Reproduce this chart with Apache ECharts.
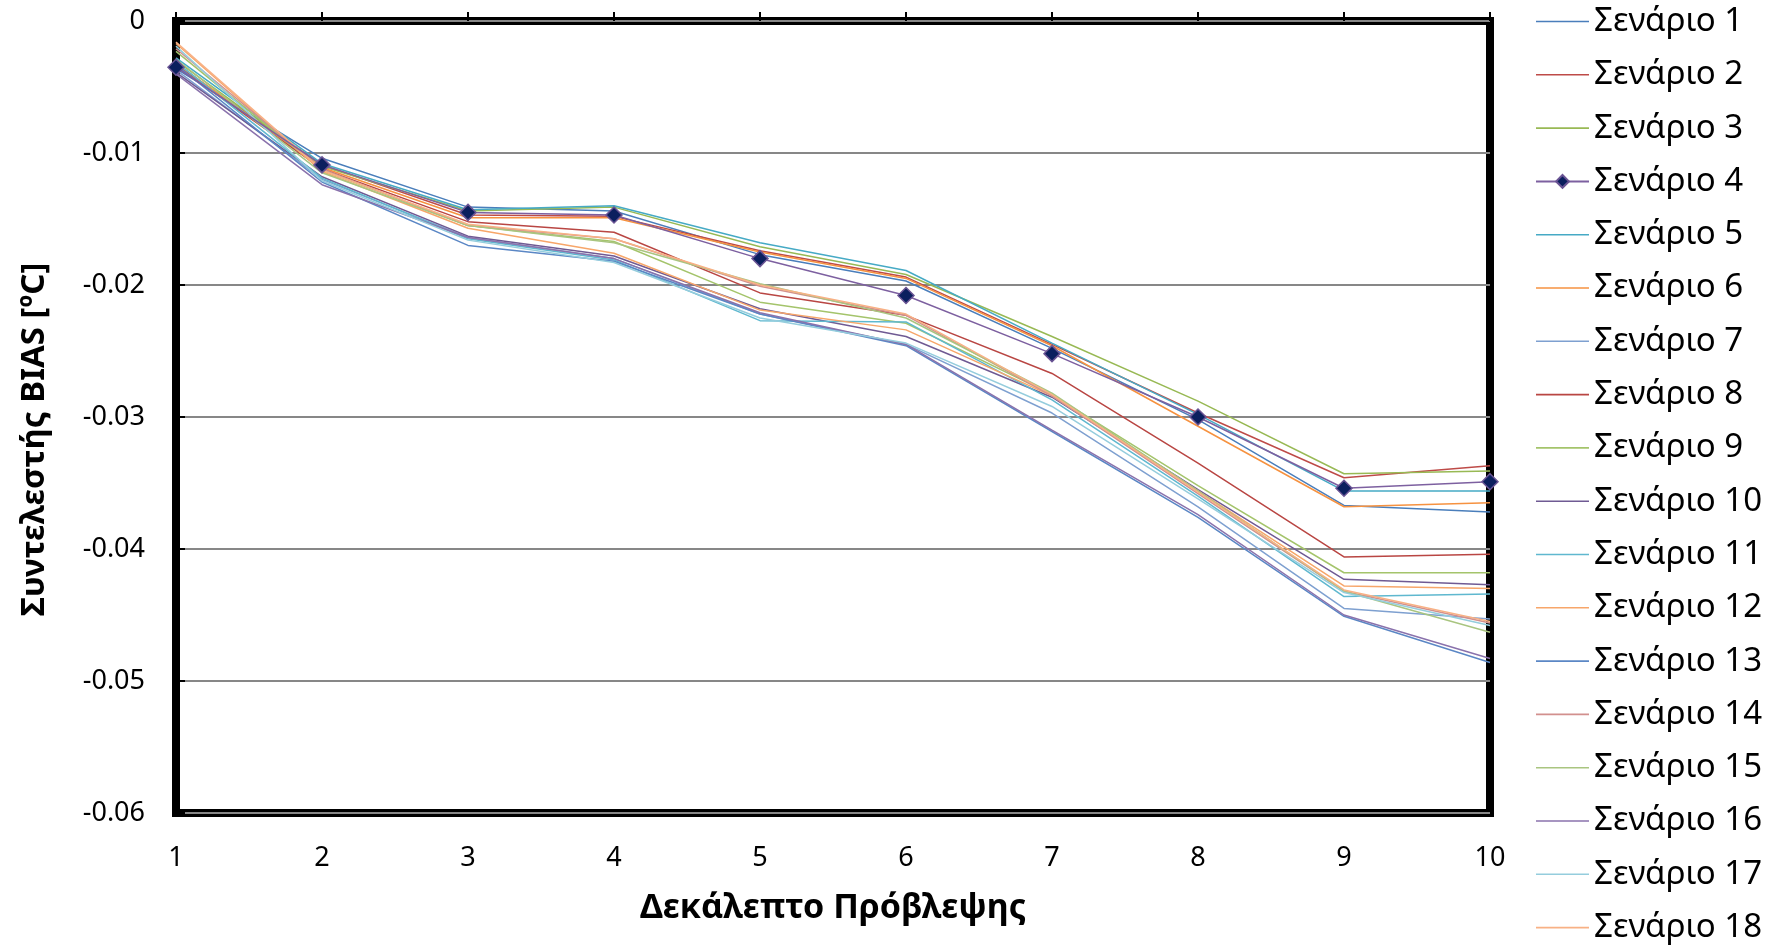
<!DOCTYPE html>
<html>
<head>
<meta charset="utf-8">
<script src="https://cdn.jsdelivr.net/npm/echarts@6/dist/echarts.min.js"></script>
<style>
  html, body { margin: 0; padding: 0; background: #fff; }
  #chart { width: 1776px; height: 946px; }
</style>
</head>
<body>
<div id="chart"></div>
<script>
// δεκάλεπτα πρόβλεψης (άξονας x)
var steps = ['1', '2', '3', '4', '5', '6', '7', '8', '9', '10'];
var yTicks = [0, -0.01, -0.02, -0.03, -0.04, -0.05, -0.06];

// BIAS ανά σενάριο
var s1 = [-0.0036, -0.0104, -0.0141, -0.0144, -0.0177, -0.0197, -0.0248, -0.0302, -0.0367, -0.0372];
var s2 = [-0.0033, -0.0109, -0.0147, -0.0148, -0.0174, -0.0194, -0.0245, -0.0297, -0.0346, -0.0337];
var s3 = [-0.0030, -0.0110, -0.0144, -0.0141, -0.0171, -0.0192, -0.0239, -0.0288, -0.0343, -0.0341];
var s4 = [-0.0035, -0.0109, -0.0145, -0.0147, -0.0180, -0.0208, -0.0252, -0.0300, -0.0354, -0.0349];
var s5 = [-0.0028, -0.0108, -0.0143, -0.0140, -0.0168, -0.0189, -0.0244, -0.0298, -0.0356, -0.0356];
var s6 = [-0.0032, -0.0111, -0.0149, -0.0149, -0.0175, -0.0195, -0.0246, -0.0307, -0.0368, -0.0365];
var s7 = [-0.0037, -0.0120, -0.0164, -0.0180, -0.0222, -0.0245, -0.0297, -0.0368, -0.0445, -0.0453];
var s8 = [-0.0034, -0.0112, -0.0152, -0.0160, -0.0206, -0.0223, -0.0267, -0.0335, -0.0406, -0.0404];
var s9 = [-0.0023, -0.0113, -0.0155, -0.0167, -0.0213, -0.0229, -0.0283, -0.0352, -0.0418, -0.0418];
var s10 = [-0.0039, -0.0118, -0.0163, -0.0178, -0.0218, -0.0239, -0.0285, -0.0355, -0.0423, -0.0427];
var s11 = [-0.0031, -0.0119, -0.0165, -0.0181, -0.0227, -0.0228, -0.0287, -0.0360, -0.0436, -0.0434];
var s12 = [-0.0017, -0.0114, -0.0157, -0.0176, -0.0219, -0.0234, -0.0284, -0.0356, -0.0428, -0.0430];
var s13 = [-0.0033, -0.0122, -0.0170, -0.0182, -0.0222, -0.0246, -0.0311, -0.0376, -0.0451, -0.0486];
var s14 = [-0.0021, -0.0112, -0.0155, -0.0165, -0.0201, -0.0223, -0.0284, -0.0358, -0.0432, -0.0456];
var s15 = [-0.0029, -0.0115, -0.0155, -0.0168, -0.0199, -0.0225, -0.0282, -0.0356, -0.0432, -0.0463];
var s16 = [-0.0040, -0.0124, -0.0164, -0.0180, -0.0221, -0.0245, -0.0310, -0.0374, -0.0450, -0.0483];
var s17 = [-0.0019, -0.0121, -0.0166, -0.0183, -0.0225, -0.0244, -0.0292, -0.0362, -0.0433, -0.0458];
var s18 = [-0.0016, -0.0113, -0.0154, -0.0165, -0.0200, -0.0222, -0.0283, -0.0357, -0.0431, -0.0455];
var allScenarios = [s1, s2, s3, s4, s5, s6, s7, s8, s9, s10, s11, s12, s13, s14, s15, s16, s17, s18];

var colors = ['#4A7EBB', '#BE4B48', '#98B954', '#7D60A0', '#46AAC5', '#F69240',
              '#7EA0D0', '#B94643', '#A4C46B', '#6F5A93', '#5FB8CF', '#F7A66A',
              '#5B87C5', '#D2908E', '#A9C580', '#8A72AC', '#95CDDD', '#F8B185'];

var FONT = '"Noto Sans", "DejaVu Sans", sans-serif';
// λεπτή γραμμή για το εικονίδιο του υπομνήματος
var LINE_ICON = 'path://M0,0 L53,0 L53,1.6 L0,1.6 Z';

(function () {
   chart_bias();

   function chart_bias () {
      var myChart = echarts.init(document.getElementById('chart'));

      var series = allScenarios.map(function (vals, i) {
         var s = {
            name: 'Σενάριο ' + (i + 1),
            type: 'line',
            data: vals,
            symbol: 'none',
            lineStyle: { width: 1.5, color: colors[i] },
            itemStyle: { color: colors[i] },
            emphasis: { disabled: true },
            z: 3
         };
         if (i === 3) {
            // μόνο το σενάριο 4 έχει σημάδια
            s.symbol = 'diamond';
            s.symbolSize = 16;
            s.itemStyle = { color: '#0B1F5E', borderColor: '#6A5494', borderWidth: 1.5 };
            s.z = 5;
         }
         return s;
      });

      var legendData = series.map(function (s, i) {
         return i === 3 ? { name: s.name } : { name: s.name, icon: LINE_ICON };
      });

      var option = {
         backgroundColor: '#fff',
         animation: false,
         textStyle: { fontFamily: FONT },
         grid: {
            left: 176,
            right: 286,
            top: 21,
            bottom: 133,
            show: true,
            borderColor: '#000',
            borderWidth: 8,
            backgroundColor: 'transparent'
         },
         legend: {
            orient: 'vertical',
            left: 1535,
            top: 4,
            padding: 0,
            itemWidth: 53,
            itemHeight: 16,
            itemGap: 18.3,
            textStyle: { fontSize: 33, color: '#000', fontFamily: FONT, lineHeight: 35 },
            data: legendData
         },
         xAxis: {
            type: 'category',
            data: steps,
            boundaryGap: false,
            name: 'Δεκάλεπτο Πρόβλεψης',
            nameLocation: 'middle',
            nameGap: 78,
            nameTextStyle: { fontSize: 34, fontWeight: 'bold', color: '#000', fontFamily: FONT },
            axisLine: { show: false },
            axisTick: { show: true, inside: true, length: 9, lineStyle: { color: '#000', width: 2 } },
            axisLabel: { fontSize: 27, color: '#000', margin: 32, fontFamily: FONT },
            splitLine: { show: false }
         },
         yAxis: {
            type: 'value',
            min: yTicks[yTicks.length - 1],
            max: yTicks[0],
            interval: 0.01,
            name: 'Συντελεστής BIAS [ºC]',
            nameLocation: 'middle',
            nameGap: 125,
            nameTextStyle: {
               fontSize: 33, fontWeight: 'bold', color: '#000', fontFamily: FONT,
               padding: [0, 45, 0, 0]
            },
            axisLine: { show: false },
            axisTick: { show: true, inside: true, length: 9, lineStyle: { color: '#000', width: 2 } },
            axisLabel: {
               fontSize: 27, color: '#000', margin: 31, fontFamily: FONT,
               formatter: function (v) { return v === 0 ? '0' : v.toFixed(2); }
            },
            splitLine: { show: true, lineStyle: { color: '#878787', width: 2 } }
         },
         series: series
      };

      myChart.setOption(option);
      window.addEventListener("resize", function () {
         myChart.resize();
      });
   }
})();
</script>
</body>
</html>
